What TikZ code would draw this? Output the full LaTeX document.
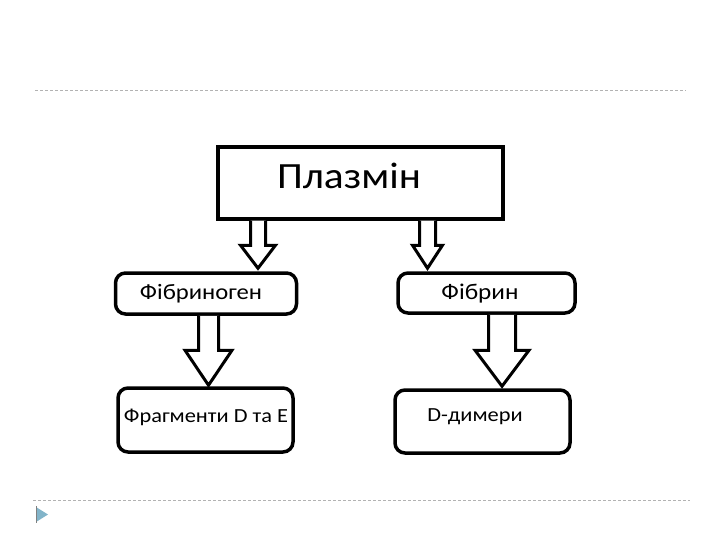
\documentclass[tikz,border=0pt]{standalone}
\usepackage{fontspec}
\setmainfont{Carlito}
\usetikzlibrary{calc}
\begin{document}
\begin{tikzpicture}[x=1pt,y=-1pt,
  box/.style={draw, line width=3.5pt, rounded corners=10pt, inner sep=0pt},
  label/.style={inner sep=0pt, text=black},
  arrowline/.style={draw, line width=3pt, fill=white, line join=miter},
  sepline/.style={draw=gray!60, line width=0.7pt, dash pattern=on 3pt off 2pt}]
\useasboundingbox (0,0) rectangle (720,540);
% separators
\coordinate (s1a) at (35,90);
\coordinate (s1b) at (686,90);
\coordinate (s2a) at (33,500);
\coordinate (s2b) at (690,500);
\draw[sepline] (s1a) -- (s1b);
\draw[sepline] (s2a) -- (s2b);
\fill[blue!30!cyan!40!gray!70] (36,507) -- (48,514.5) -- (36,522) -- cycle;
\draw[gray, line width=1pt] (36,506) -- (36,523);
% boxes
\node[draw, line width=3.5pt, minimum width=285pt, minimum height=72pt, inner sep=0pt] (plasmin) at (360.5,183) {};
\node[label, font=\fontsize{37}{44}\selectfont] (plasmint) at (349,176) {\scalebox{1.12}[1]{Плазмін}};
\node[box, minimum width=181pt, minimum height=41pt] (fibrinogen) at (206,293.5) {};
\node[label, font=\fontsize{22}{26}\selectfont] (fibrinogent) at (201,294) {\scalebox{1.12}[1]{Фібриноген}};
\node[box, minimum width=177pt, minimum height=40pt] (fibrin) at (486.5,293) {};
\node[label, font=\fontsize{22.5}{26}\selectfont] (fibrint) at (480,294) {\scalebox{1.12}[1]{Фібрин}};
\node[box, minimum width=175pt, minimum height=64pt] (frag) at (205.5,420) {};
\node[label, font=\fontsize{20}{24}\selectfont] (fragt) at (206,417) {\scalebox{1.12}[1]{Фрагменти D та E}};
\node[box, minimum width=175pt, minimum height=63pt] (dimer) at (482.5,421.5) {};
\node[label, font=\fontsize{20}{24}\selectfont] (dimert) at (475,417) {\scalebox{1.12}[1]{D-димери}};
% arrow coordinates
\path (plasmin.south) ++(-102.5,0) coordinate (a1s);
\path (plasmin.south) ++(67,0) coordinate (a2s);
\path (fibrinogen.south) ++(2.5,0) coordinate (a3s);
\path (fibrin.south) ++(15.5,0) coordinate (a4s);
\coordinate (a1t) at ($(a1s |- fibrinogen.north)+(0,-3)$);
\coordinate (a2t) at ($(a2s |- fibrin.north)+(0,-3)$);
\coordinate (a3t) at ($(a3s |- frag.north)+(0,-1)$);
\coordinate (a4t) at ($(a4s |- dimer.north)+(0,-2)$);
\newcommand\fatarrow[5]{%
  \draw[arrowline] let \p1=(#1), \p2=(#2) in
    (\x1-#3,\y1) -- (\x1-#3,\y2+#5) -- (\x1-#4,\y2+#5) -- (\x2,\y2)
    -- (\x1+#4,\y2+#5) -- (\x1+#3,\y2+#5) -- (\x1+#3,\y1);}
\fatarrow{a1s}{a1t}{7.5}{17.5}{23}
\fatarrow{a2s}{a2t}{8}{15}{23}
\fatarrow{a3s}{a3t}{10}{23.5}{35}
\fatarrow{a4s}{a4t}{13.5}{27}{36}
\end{tikzpicture}
\end{document}
